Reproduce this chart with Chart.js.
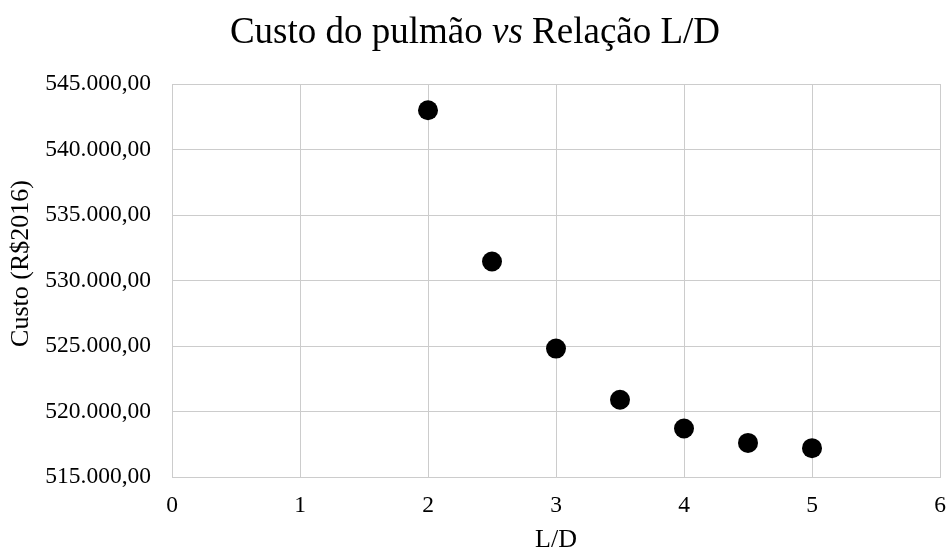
<!DOCTYPE html>
<html lang="pt-BR">
<head>
<meta charset="utf-8">
<title>Custo do pulmão vs Relação L/D</title>
<script src="https://cdn.jsdelivr.net/npm/chart.js@4"></script>
<style>
  html, body { margin: 0; padding: 0; background: #ffffff; }
  #wrap { width: 950px; height: 551px; position: relative; }
</style>
</head>
<body>
<div id="wrap"><canvas id="grafico" width="950" height="551"></canvas></div>
<script>
// Relação L/D do pulmão e custo correspondente (R$ de 2016)
const relacaoLD = [2, 2.5, 3, 3.5, 4, 4.5, 5];
const custo = [543000, 531450, 524800, 520900, 518700, 517600, 517200];

// Limites e passos dos eixos
const eixoX = { min: 0, max: 6, passo: 1 };
const eixoY = { min: 515000, max: 545000, passo: 5000 };

// Textos
const tituloPartes = [
  { texto: 'Custo do pulmão ', italico: false },
  { texto: 'vs', italico: true },
  { texto: ' Relação L/D', italico: false }
];
const tituloX = 'L/D';
const tituloY = 'Custo (R$2016)';

const FONTE = "'Liberation Serif', 'Times New Roman', serif";
const CINZA = '#cccccc';

// Formato brasileiro: 545.000,00
function formatoBR(v) {
  const [inteiro, dec] = Number(v).toFixed(2).split('.');
  return inteiro.replace(/\B(?=(\d{3})+(?!\d))/g, '.') + ',' + dec;
}

const pontos = relacaoLD.map((x, i) => ({ x: x, y: custo[i] }));

// Título com trecho em itálico e título vertical do eixo Y
const titulos = {
  id: 'titulos',
  afterDraw(chart) {
    const ctx = chart.ctx;
    const tam = 37;
    ctx.save();
    ctx.fillStyle = '#000';
    ctx.textBaseline = 'alphabetic';
    ctx.textAlign = 'left';
    const larguras = tituloPartes.map(p => {
      ctx.font = (p.italico ? 'italic ' : '') + tam + 'px ' + FONTE;
      return ctx.measureText(p.texto).width;
    });
    const total = larguras.reduce((a, b) => a + b, 0);
    let x = chart.width / 2 - total / 2;
    tituloPartes.forEach((p, i) => {
      ctx.font = (p.italico ? 'italic ' : '') + tam + 'px ' + FONTE;
      ctx.fillText(p.texto, x, 43);
      x += larguras[i];
    });
    ctx.restore();

    // eixo Y: texto girado, centrado um pouco acima do meio da área
    const area = chart.chartArea;
    ctx.save();
    ctx.fillStyle = '#000';
    ctx.font = '26px ' + FONTE;
    ctx.textAlign = 'center';
    ctx.textBaseline = 'middle';
    ctx.translate(21.5, (area.top + area.bottom) / 2 - 17);
    ctx.rotate(-Math.PI / 2);
    ctx.fillText(tituloY, 0, 0);
    ctx.restore();
  }
};

new Chart(document.getElementById('grafico'), {
  type: 'scatter',
  data: {
    datasets: [{
      label: 'Custo',
      data: pontos,
      backgroundColor: '#000000',
      borderColor: '#000000',
      borderWidth: 0,
      pointRadius: 10,
      pointHoverRadius: 10
    }]
  },
  options: {
    responsive: false,
    animation: false,
    devicePixelRatio: 1,
    layout: { padding: { top: 84, left: 0, right: 8, bottom: 0 } },
    plugins: {
      legend: { display: false },
      tooltip: { enabled: false },
      title: { display: false }
    },
    scales: {
      x: {
        type: 'linear',
        min: eixoX.min,
        max: eixoX.max,
        ticks: {
          stepSize: eixoX.passo,
          color: '#000',
          padding: 15,
          font: { family: FONTE, size: 23.5 },
          maxRotation: 0
        },
        grid: { color: CINZA, lineWidth: 1, drawTicks: false },
        border: { color: CINZA, width: 1 },
        title: {
          display: true,
          text: tituloX,
          color: '#000',
          padding: 0,
          font: { family: FONTE, size: 26, lineHeight: '21px' }
        },
        afterFit(s) { s.height = 74; s.paddingLeft = 0; s.paddingRight = 0; }
      },
      y: {
        type: 'linear',
        min: eixoY.min,
        max: eixoY.max,
        ticks: {
          stepSize: eixoY.passo,
          color: '#000',
          padding: 21,
          font: { family: FONTE, size: 23.5 },
          callback: v => formatoBR(v)
        },
        grid: { color: CINZA, lineWidth: 1, drawTicks: false },
        border: { color: CINZA, width: 1 },
        title: { display: false },
        afterFit(s) { s.width = 172; s.paddingTop = 0; s.paddingBottom = 0; }
      }
    }
  },
  plugins: [titulos]
});
</script>
</body>
</html>
